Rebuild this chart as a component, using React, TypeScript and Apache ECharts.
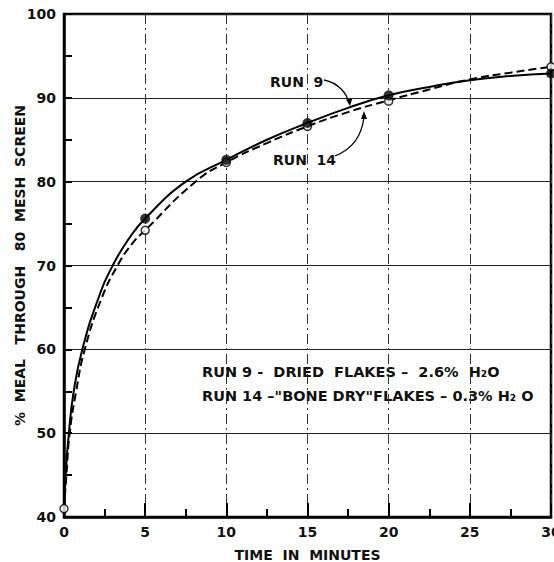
import React, { useEffect, useRef } from "react";
import * as echarts from "echarts";

// Time (minutes) axis ticks and % axis ticks
const X_TICKS = [0, 5, 10, 15, 20, 25, 30];
const Y_MIN = 40;
const Y_MAX = 100;

// Run 9 – measured points (filled markers)
const RUN9_POINTS: [number, number][] = [
  [5, 75.6],
  [10, 82.6],
  [15, 87.0],
  [20, 90.3],
  [30, 92.9],
];
// Run 14 – measured points (open markers)
const RUN14_POINTS: [number, number][] = [
  [0, 41.0],
  [5, 74.2],
  [10, 82.3],
  [15, 86.6],
  [20, 89.6],
  [30, 93.7],
];
// Drawn curves
const RUN9_CURVE: [number, number][] = [
  [0, 41], [0.1, 45], [0.3, 50], [0.6, 55], [1.13, 60], [2.1, 66], [3.0, 70],
  [4.0, 73.2], [5, 75.6], [7.5, 80], [10, 82.6], [12.5, 85], [15, 87.0],
  [17.5, 88.8], [20, 90.3], [22.5, 91.3], [25, 92.1], [27.5, 92.6], [30, 92.9],
];
const RUN14_CURVE: [number, number][] = [
  [0, 41], [0.15, 45], [0.35, 50], [0.75, 55], [1.28, 60], [2.3, 66], [3.3, 70],
  [4.2, 72.6], [5, 74.2], [8.1, 80], [10, 82.3], [12.5, 84.6], [15, 86.6],
  [17.5, 88.3], [20, 89.7], [22.5, 91.0], [25, 92.2], [27.5, 93.0], [30, 93.7],
];

const X_TITLE = "TIME  IN  MINUTES";
const Y_TITLE = "%  MEAL   THROUGH   80  MESH  SCREEN";
const LABEL_RUN9 = "RUN  9";
const LABEL_RUN14 = "RUN  14";
const NOTE_1 = "RUN 9 -  DRIED  FLAKES –  2.6%  H₂O";
const NOTE_2 = "RUN 14 –\"BONE DRY\"FLAKES – 0.3% H₂ O";

const FONT = "DejaVu Sans";
const INK = "#111";

export default function App() {
  const ref = useRef<HTMLDivElement>(null);
  useEffect(() => {
    if (!ref.current) return;
    const chart = echarts.init(ref.current, undefined, { renderer: "svg" });
    const textStyle = (size: number) => ({
      fontFamily: FONT,
      fontWeight: "bold" as const,
      fontSize: size,
      fill: INK,
    });
    chart.setOption({
      animation: false,
      backgroundColor: "#fff",
      grid: {
        left: 64,
        right: 3,
        top: 14,
        bottom: 45,
        outerBoundsMode: "none",
        containLabel: false,
        show: true,
        borderColor: "#000",
        borderWidth: 2.5,
      },
      xAxis: {
        type: "value",
        min: X_TICKS[0],
        max: X_TICKS[X_TICKS.length - 1],
        interval: 5,
        name: X_TITLE,
        nameLocation: "middle",
        nameGap: 31,
        nameMoveOverlap: false,
        nameTextStyle: { fontFamily: FONT, fontWeight: "bold", fontSize: 14, color: INK },
        axisLine: { show: true, lineStyle: { color: "#000", width: 2.5 } },
        axisTick: { show: true, inside: true, length: 14, lineStyle: { color: "#000", width: 2 } },
        minorTick: { show: true, splitNumber: 2, length: 8, lineStyle: { color: "#000", width: 2 } },
        axisLabel: {
          fontFamily: FONT,
          fontWeight: "bold",
          fontSize: 14,
          color: INK,
          margin: 8,
        },
        splitLine: {
          show: true,
          lineStyle: { color: "#333", width: 1, type: [10, 4, 2, 4] },
        },
      },
      yAxis: {
        type: "value",
        min: Y_MIN,
        max: Y_MAX,
        interval: 10,
        name: Y_TITLE,
        nameLocation: "middle",
        nameGap: 37,
        nameMoveOverlap: false,
        nameTextStyle: { fontFamily: FONT, fontWeight: "bold", fontSize: 14, color: INK },
        axisLine: { show: true, lineStyle: { color: "#000", width: 2.5 } },
        axisTick: { show: true, inside: true, length: 8, lineStyle: { color: "#000", width: 2 } },
        minorTick: { show: true, splitNumber: 2, length: 8, lineStyle: { color: "#000", width: 2 } },
        axisLabel: {
          fontFamily: FONT,
          fontWeight: "bold",
          fontSize: 14,
          color: INK,
          margin: 8,
        },
        splitLine: {
          show: true,
          lineStyle: { color: "#222", width: 1.2, type: "solid" },
        },
      },
      series: [
        {
          name: "Run 9 curve",
          type: "line",
          data: RUN9_CURVE,
          smooth: 0.5,
          showSymbol: false,
          lineStyle: { color: "#000", width: 2 },
          z: 3,
        },
        {
          name: "Run 14 curve",
          type: "line",
          data: RUN14_CURVE,
          smooth: 0.5,
          showSymbol: false,
          lineStyle: { color: "#000", width: 2, type: [8, 4] },
          z: 3,
        },
        {
          name: "Run 14",
          type: "scatter",
          data: RUN14_POINTS,
          symbol: "circle",
          symbolSize: 8,
          itemStyle: { color: "#fff", borderColor: "#000", borderWidth: 1.5 },
          z: 4,
        },
        {
          name: "Run 9",
          type: "scatter",
          data: RUN9_POINTS,
          symbol: "circle",
          symbolSize: 10,
          itemStyle: { color: "#000" },
          z: 5,
        },
      ],
      graphic: [
        { type: "text", left: 270, top: 75, style: { ...textStyle(14), text: LABEL_RUN9 } },
        { type: "text", left: 273, top: 153, style: { ...textStyle(14), text: LABEL_RUN14 } },
        {
          type: "bezierCurve",
          shape: { x1: 324, y1: 80, cpx1: 339, cpy1: 83, cpx2: 347, cpy2: 94, x2: 349, y2: 103 },
          style: { stroke: "#000", lineWidth: 1.3, fill: "none" },
        },
        {
          type: "polygon",
          shape: { points: [[350, 106], [352.5, 98], [346, 99.5]] },
          style: { fill: "#000" },
        },
        {
          type: "bezierCurve",
          shape: { x1: 335, y1: 156, cpx1: 353, cpy1: 149, cpx2: 362, cpy2: 134, x2: 364, y2: 117 },
          style: { stroke: "#000", lineWidth: 1.3, fill: "none" },
        },
        {
          type: "polygon",
          shape: { points: [[364, 111], [367, 119], [361, 119]] },
          style: { fill: "#000" },
        },
        { type: "text", left: 202, top: 364, style: { ...textStyle(14.5), text: NOTE_1 } },
        { type: "text", left: 202, top: 388, style: { ...textStyle(14.5), text: NOTE_2 } },
      ],
    });
    return () => chart.dispose();
  }, []);
  return (
    <div
      ref={ref}
      style={{ position: "fixed", left: 0, top: 0, width: 554, height: 562, background: "#fff" }}
    />
  );
}
